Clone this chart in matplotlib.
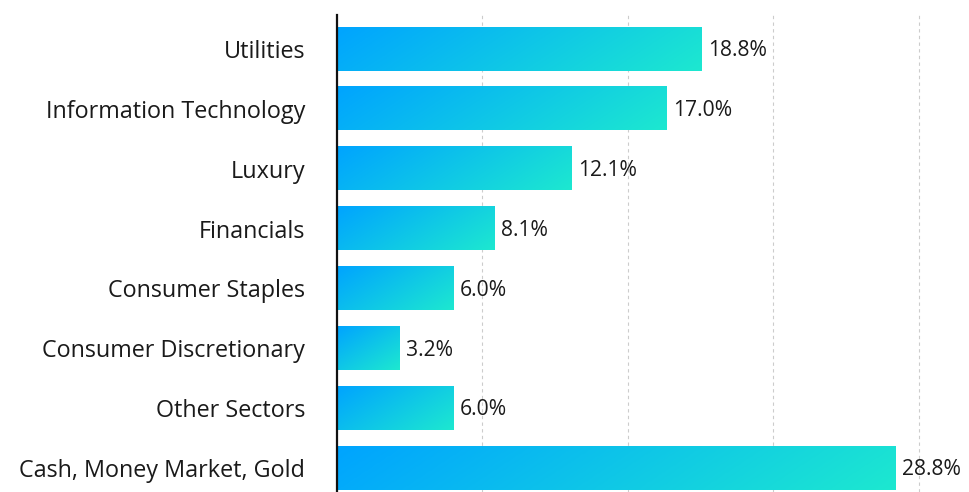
import numpy as np
import matplotlib.pyplot as plt
from matplotlib.colors import LinearSegmentedColormap

categories = ["Utilities", "Information Technology", "Luxury", "Financials",
              "Consumer Staples", "Consumer Discretionary", "Other Sectors",
              "Cash, Money Market, Gold"]
values = [18.8, 17.0, 12.1, 8.1, 6.0, 3.2, 6.0, 28.8]
labels = ["18.8%", "17.0%", "12.1%", "8.1%", "6.0%", "3.2%", "6.0%", "28.8%"]

plt.rcParams['font.family'] = ['Open Sans', 'DejaVu Sans']

fig = plt.figure(figsize=(9.69, 4.92), dpi=100)
ax = fig.add_axes([337 / 969, 0, 1 - 337 / 969, 477 / 492])

cmap = LinearSegmentedColormap.from_list("bar", ["#00a4ff", "#1de8d0"])
h = 0.72
xmax = 32.58
px_per_unit = (969 - 337) / xmax
bar_px = 43

for i, v in enumerate(values):
    # diagonal gradient in pixel space, top-left blue -> bottom-right turquoise
    w_px = v * px_per_unit
    gx, gy = np.meshgrid(np.linspace(0, w_px, 300), np.linspace(0, bar_px, 30))
    grad = (gx + 1.5 * gy) / (w_px + 1.5 * bar_px)
    ax.imshow(grad, cmap=cmap, vmin=0, vmax=1, aspect='auto',
              extent=[0, v, i + h / 2, i - h / 2], interpolation='bilinear', zorder=2)
    ax.text(v + 0.35, i + 0.03, labels[i], va='center', ha='left', fontsize=15.2, color='#1a1a1a')

ax.set_xlim(0, xmax)
ax.set_ylim(7.4, -0.567)
ax.set_yticks(range(len(categories)))
ax.set_yticklabels(categories, fontsize=16.8, color='#1a1a1a')
ax.tick_params(axis='y', length=0, pad=23)
ax.set_xticks([7.5, 15, 22.5, 30])
ax.tick_params(axis='x', length=0, labelbottom=False)
ax.grid(axis='x', color='#cccccc', linestyle=(0, (3, 3)), linewidth=0.8, zorder=0)
ax.set_axisbelow(True)

for s in ['top', 'right', 'bottom']:
    ax.spines[s].set_visible(False)
ax.spines['left'].set_linewidth(1.6)
ax.spines['left'].set_color('#111111')
ax.spines['left'].set_zorder(3)

fig.savefig("out.png", dpi=100)
